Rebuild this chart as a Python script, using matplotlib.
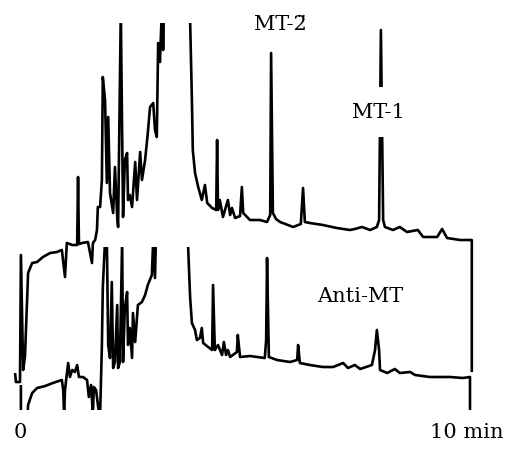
import matplotlib
matplotlib.use("Agg")
import matplotlib.pyplot as plt
from matplotlib.patches import Rectangle

# Retention time (min) and detector response (arbitrary units, recorder offset included)
mt_time = [-0.11, -0.09, 0.00, 0.02, 0.07, 0.11, 0.18, 0.27, 0.38, 0.51, 0.67, 0.82, 0.93,
           1.00, 1.04, 1.16, 1.27, 1.29, 1.31, 1.38, 1.51, 1.60, 1.62, 1.67, 1.71, 1.73, 1.78,
           1.82, 1.84, 1.89, 1.93, 1.96, 2.00, 2.07, 2.11, 2.16, 2.18, 2.24, 2.29, 2.33, 2.38,
           2.40, 2.44, 2.49, 2.56, 2.60, 2.67, 2.71, 2.78, 2.84, 2.89, 2.96, 3.00, 3.04, 3.07,
           3.11, 3.16, 3.18, 3.22, 3.73, 3.78, 3.82, 3.84, 3.89, 3.96, 4.04, 4.11, 4.16, 4.27,
           4.36, 4.38, 4.40, 4.44, 4.51, 4.62, 4.67, 4.71, 4.78, 4.89, 4.93, 4.96, 5.11, 5.33,
           5.49, 5.56, 5.58, 5.62, 5.69, 5.78, 6.07, 6.24, 6.29, 6.33, 6.44, 6.73, 7.04, 7.33,
           7.44, 7.60, 7.78, 7.93, 7.98, 8.02, 8.07, 8.11, 8.29, 8.44, 8.60, 8.84, 8.96, 9.27,
           9.38, 9.49, 9.78, 9.93, 10.04, 10.04]
mt_signal = [77, 68, 68, 195, 80, 93, 177, 187, 188, 193, 197, 198, 200,
             173, 207, 205, 205, 273, 206, 207, 208, 187, 207, 210, 220, 243, 243,
             270, 373, 350, 267, 333, 257, 237, 283, 233, 223, 440, 233, 290, 297,
             250, 255, 243, 288, 250, 298, 270, 290, 317, 343, 347, 320, 313, 407,
             388, 450, 400, 480, 480, 430, 350, 300, 277, 263, 250, 265, 247, 242,
             240, 310, 240, 250, 233, 250, 235, 242, 232, 234, 263, 237, 230, 230,
             228, 235, 397, 237, 231, 228, 223, 226, 262, 228, 227, 225, 222, 220,
             221, 223, 220, 223, 230, 420, 230, 223, 220, 223, 218, 220, 213, 213,
             221, 212, 210, 210, 210, 78]

anti_time = [0.02, 0.02, 0.16, 0.18, 0.27, 0.38, 0.56, 0.73, 0.93, 0.96, 0.98, 1.00, 1.02,
             1.07, 1.11, 1.16, 1.22, 1.27, 1.31, 1.40, 1.49, 1.53, 1.58, 1.62, 1.64, 1.69,
             1.76, 1.78, 1.80, 1.82, 1.84, 1.89, 1.93, 1.96, 2.00, 2.04, 2.07, 2.11, 2.16,
             2.18, 2.22, 2.27, 2.29, 2.33, 2.38, 2.40, 2.44, 2.49, 2.51, 2.56, 2.62, 2.71,
             2.78, 2.84, 2.93, 2.96, 3.00, 3.04, 3.69, 3.73, 3.78, 3.82, 3.89, 3.93, 4.00,
             4.04, 4.07, 4.18, 4.27, 4.29, 4.33, 4.40, 4.49, 4.53, 4.58, 4.62, 4.67, 4.82,
             4.84, 4.89, 5.11, 5.27, 5.44, 5.47, 5.49, 5.53, 5.71, 6.00, 6.16, 6.18, 6.22,
             6.44, 6.73, 6.96, 7.18, 7.29, 7.44, 7.56, 7.82, 7.89, 7.93, 7.98, 8.00, 8.16,
             8.33, 8.44, 8.67, 8.78, 9.11, 9.56, 9.84, 10.00, 10.00]
anti_signal = [65, 30, 30, 45, 57, 62, 64, 67, 70, 60, 35, 60, 68,
               87, 73, 80, 78, 85, 73, 73, 70, 53, 65, 35, 63, 60,
               35, 35, 70, 105, 162, 210, 210, 105, 92, 168, 82, 88, 145,
               82, 88, 210, 88, 142, 158, 105, 122, 92, 137, 108, 145, 148,
               155, 165, 175, 210, 172, 250, 250, 210, 153, 127, 120, 110, 112,
               122, 107, 103, 100, 165, 100, 105, 95, 108, 95, 100, 93, 98,
               115, 93, 94, 93, 92, 110, 192, 93, 90, 88, 90, 105, 87,
               85, 83, 83, 87, 82, 85, 81, 85, 100, 120, 100, 80, 77,
               81, 77, 78, 75, 73, 73, 72, 73, 30]

# Recorder pen limits for each trace (off-scale parts are not drawn)
mt_range = (40, 427)
anti_range = (40, 203)

fig = plt.figure(figsize=(5.11, 4.50), dpi=100)
ax = fig.add_axes([0, 0, 1, 1])
ax.set_xlim(-20 / 45, 491 / 45)
ax.set_ylim(0, 450)
ax.axis("off")

ink = "#000000"
for t, s, (lo, hi) in [(mt_time, mt_signal, mt_range),
                       (anti_time, anti_signal, anti_range)]:
    line, = ax.plot(t, s, color=ink, lw=1.9, solid_joinstyle="round",
                    solid_capstyle="butt")
    clip = Rectangle((-1, lo), 13, hi - lo, transform=ax.transData)
    line.set_clip_path(clip)

font = dict(family="DejaVu Serif", color=ink, fontsize=15)
ax.text(5.78, 425, "MT-2\u0308", ha="center", va="center", **font)
ax.text(7.96, 338, "MT-1", ha="center", va="center",
        bbox=dict(facecolor="white", edgecolor="none", pad=11), **font)
ax.text(7.56, 153, "Anti-MT", ha="center", va="center", **font)
ax.text(0.0, 18, "0", ha="center", va="center", **font)
ax.text(9.93, 18, "10 min", ha="center", va="center", **font)

fig.savefig("out.png", dpi=100, facecolor="white")
